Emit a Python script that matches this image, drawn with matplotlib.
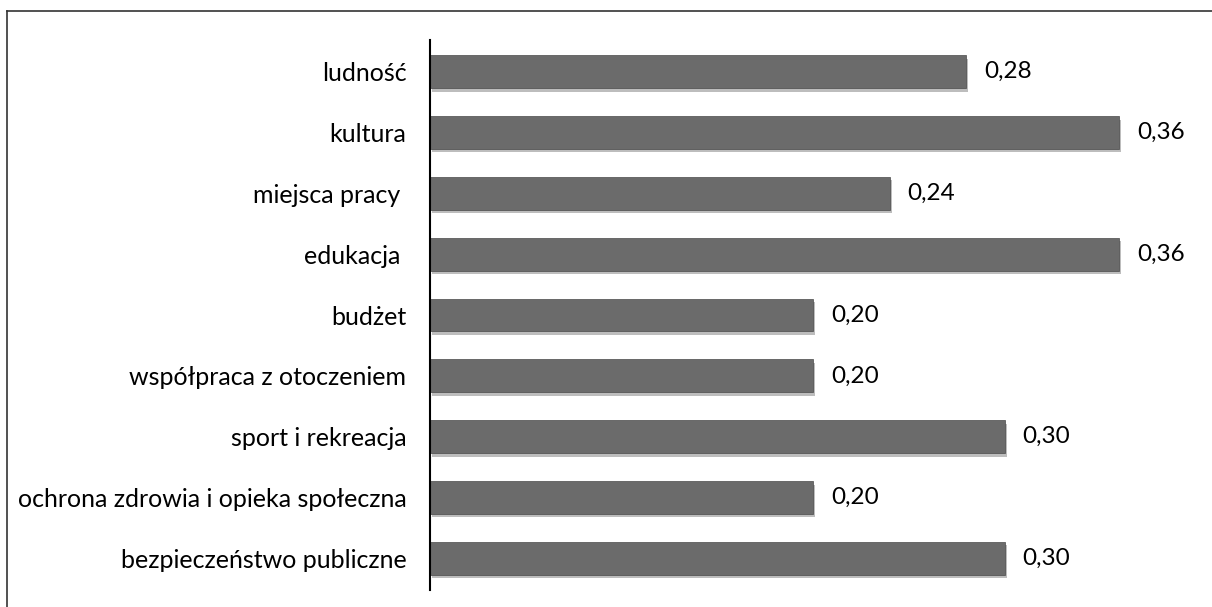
import matplotlib
matplotlib.use("Agg")
import matplotlib.pyplot as plt
import matplotlib.patheffects as pe
from matplotlib.lines import Line2D

categories = ["ludność", "kultura", "miejsca pracy ", "edukacja ", "budżet",
              "współpraca z otoczeniem", "sport i rekreacja",
              "ochrona zdrowia i opieka społeczna", "bezpieczeństwo publiczne"]
values = [0.28, 0.36, 0.24, 0.36, 0.20, 0.20, 0.30, 0.20, 0.30]
value_labels = ["0,28", "0,36", "0,24", "0,36", "0,20", "0,20", "0,30", "0,20", "0,30"]

plt.rcParams['font.family'] = ['Lato', 'DejaVu Sans']

fig = plt.figure(figsize=(12.12, 6.07), dpi=100)
ax = fig.add_axes([0.3548, 0.028, 0.632, 0.906])

ypos = list(range(len(categories)))
bars = ax.barh(ypos, values, height=0.54, color='#6b6b6b', edgecolor='#4a4a4a',
               linewidth=0.5, zorder=2)
for b in bars:
    b.set_path_effects([pe.SimplePatchShadow(offset=(1.5, -2.5), shadow_rgbFace='#bdbdbd', alpha=1.0),
                        pe.Normal()])

for y, v, lab in zip(ypos, values, value_labels):
    ax.annotate(lab, xy=(v, y), xytext=(13, 0), textcoords='offset points',
                ha='left', va='center', fontsize=17.5, color='black')

ax.set_xlim(0, 0.4)
ax.set_ylim(len(categories) - 0.48, -0.52)
ax.set_yticks(ypos)
ax.set_yticklabels(categories, fontsize=18)
ax.tick_params(axis='y', length=0, pad=17)
ax.set_xticks([])
for s in ['top', 'right', 'bottom']:
    ax.spines[s].set_visible(False)
ax.spines['left'].set_linewidth(1.5)
ax.spines['left'].set_color('black')

# outer frame (top and left edges)
fig.add_artist(Line2D([0.006, 1.0], [0.982, 0.982], color='#333333', lw=1.2, transform=fig.transFigure))
fig.add_artist(Line2D([0.006, 0.006], [0.0, 0.982], color='#333333', lw=1.2, transform=fig.transFigure))

fig.savefig("out.png", dpi=100)
